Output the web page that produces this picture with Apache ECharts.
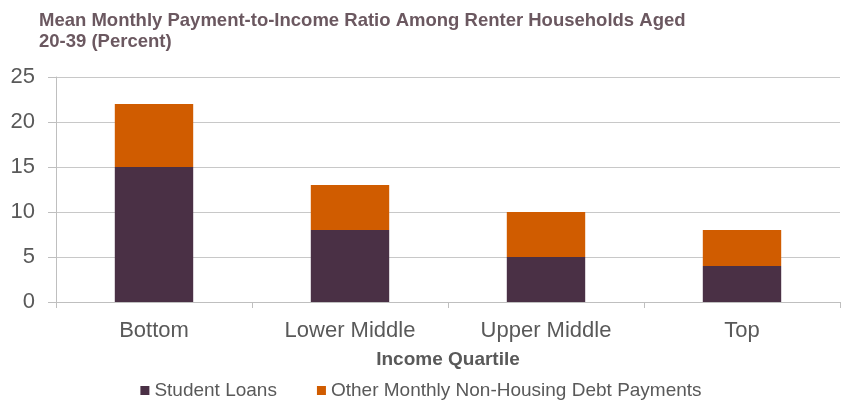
<!DOCTYPE html>
<html><head><meta charset="utf-8">
<script src="https://cdn.jsdelivr.net/npm/echarts@6/dist/echarts.min.js"></script>
<style>html,body{margin:0;padding:0;background:#fff}#c{width:842px;height:406px}</style>
</head><body><div id="c"></div>
<script>
const categories = ['Bottom', 'Lower Middle', 'Upper Middle', 'Top'];
const studentLoans = [15, 8, 5, 4];
const otherDebt = [7, 5, 5, 4];
const yTicks = [0, 5, 10, 15, 20, 25];

const chart = echarts.init(document.getElementById('c'));
chart.setOption({
  animation: false,
  title: {
    text: 'Mean Monthly Payment-to-Income Ratio Among Renter Households Aged\n20-39 (Percent)',
    left: 34, top: 5,
    textStyle: { fontFamily: 'Liberation Sans, Arial', fontSize: 18.5, fontWeight: 'bold', color: '#6b5860', lineHeight: 21 }
  },
  grid: { left: 56, right: 2, top: 77, bottom: 104 },
  legend: {
    bottom: 1, left: 'center', itemWidth: 9, itemHeight: 9, itemGap: 40, icon: 'rect',
    textStyle: { fontFamily: 'Liberation Sans, Arial', fontSize: 19, color: '#595959' },
    data: ['Student Loans', 'Other Monthly Non-Housing Debt Payments']
  },
  xAxis: {
    type: 'category', data: categories,
    name: 'Income Quartile', nameLocation: 'middle', nameGap: 48,
    nameTextStyle: { fontFamily: 'Liberation Sans, Arial', fontSize: 19, fontWeight: 'bold', color: '#595959' },
    axisLine: { lineStyle: { color: '#bfbfbf' } },
    axisTick: { show: true, length: 6, lineStyle: { color: '#bfbfbf' } },
    axisLabel: { fontFamily: 'Liberation Sans, Arial', fontSize: 22, color: '#595959', margin: 18 }
  },
  yAxis: {
    type: 'value', min: yTicks[0], max: yTicks[yTicks.length - 1], interval: 5,
    axisLine: { show: true, lineStyle: { color: '#bfbfbf' } },
    axisTick: { show: true, length: 8, lineStyle: { color: '#bfbfbf' } },
    splitLine: { lineStyle: { color: '#c8c8c8' } },
    axisLabel: { fontFamily: 'Liberation Sans, Arial', fontSize: 22, color: '#595959', margin: 21 }
  },
  series: [
    { name: 'Student Loans', type: 'bar', stack: 'a', data: studentLoans, barWidth: '40%', itemStyle: { color: '#4a3045' } },
    { name: 'Other Monthly Non-Housing Debt Payments', type: 'bar', stack: 'a', data: otherDebt, barWidth: '40%', itemStyle: { color: '#d05c00' } }
  ]
});
</script></body></html>
